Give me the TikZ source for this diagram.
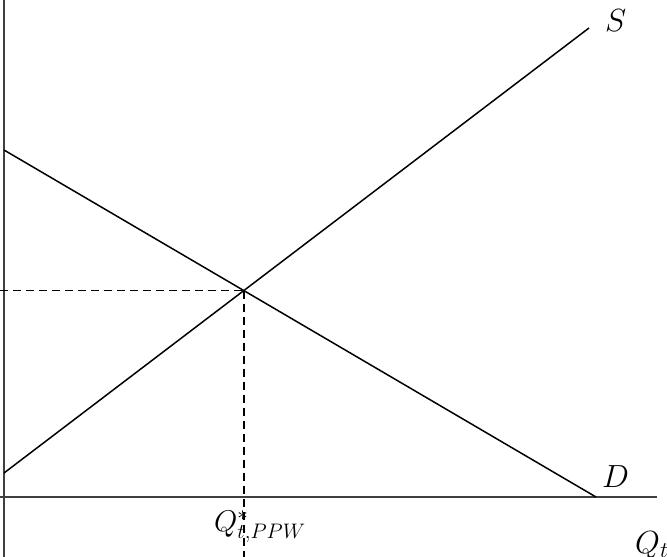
\RequirePackage{fix-cm}
\documentclass[tikz,border=0pt]{standalone}
\usepackage{amsmath}
\begin{document}
\begin{tikzpicture}[x=1pt,y=-1pt,
  axisline/.style={draw=black!75,line width=1.5pt},
  curve/.style={draw=black,line width=1.5pt},
  guide/.style={draw=black,line width=1.6pt,dash pattern=on 8pt off 5pt},
  lbl/.style={inner sep=0pt,font=\fontsize{32}{36}\selectfont}]
\useasboundingbox (0,0) rectangle (667,557);
% axes
\coordinate (ytop) at (4,0);
\coordinate (ybot) at (4,557);
\coordinate (xl) at (0,497);
\coordinate (xr) at (657,497);
\draw[axisline] (ytop) -- (ybot);
\draw[axisline] (xl) -- (xr);
% curves
\coordinate (d0) at (4,150);
\coordinate (d1) at (596,497);
\coordinate (s0) at (4,473);
\coordinate (s1) at (589,28);
\draw[curve] (d0) -- (d1);
\draw[curve] (s0) -- (s1);
\coordinate (eq) at (intersection of d0--d1 and s0--s1);
% guides
\coordinate (gl) at (0,0 |- eq);
\coordinate (gb) at (eq |- 0,557);
\draw[guide] (gl) -- (eq);
\draw[guide] (eq) -- (gb);
% labels
\node[lbl,anchor=base west] (S) at (605,31) {$S$};
\node[lbl,anchor=base west] (D) at (602,487) {$D$};
\node[lbl,anchor=base west] (Qt) at (635,553) {$Q_t$};
\node[inner sep=0pt,anchor=base west,font=\fontsize{30}{34}\selectfont] (Qs) at (214,531) {$Q^{*}_{t,PPW}$};
\end{tikzpicture}
\end{document}
